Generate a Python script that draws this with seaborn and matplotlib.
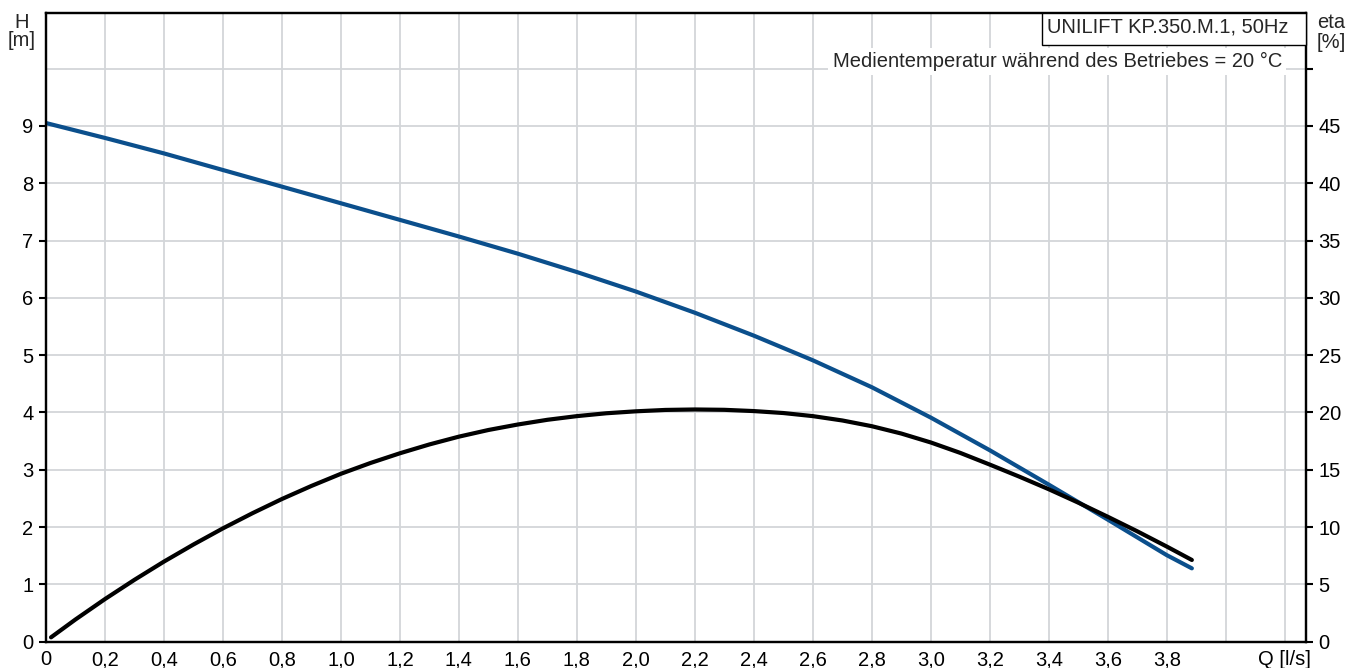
import numpy as np
import matplotlib
matplotlib.use("Agg")
import matplotlib.pyplot as plt
from matplotlib.patches import Rectangle
import seaborn as sns

# --- data ---
q_head = [0.0, 0.2, 0.4, 0.6, 0.8, 1.0, 1.2, 1.4, 1.6, 1.8, 2.0,
          2.2, 2.4, 2.6, 2.8, 3.0, 3.2, 3.4, 3.6, 3.8, 3.885]
head_m = [9.05, 8.79, 8.52, 8.23, 7.94, 7.65, 7.36, 7.07, 6.77, 6.45, 6.11,
          5.74, 5.34, 4.91, 4.44, 3.91, 3.34, 2.74, 2.13, 1.51, 1.28]

q_eta = [0.017, 0.1, 0.2, 0.3, 0.4, 0.5, 0.6, 0.7, 0.8, 0.9, 1.0,
         1.1, 1.2, 1.3, 1.4, 1.5, 1.6, 1.7, 1.8, 1.9, 2.0,
         2.1, 2.2, 2.3, 2.4, 2.5, 2.6, 2.7, 2.8, 2.9, 3.0,
         3.1, 3.2, 3.3, 3.4, 3.5, 3.6, 3.7, 3.8, 3.885]
eta_pct = [0.38, 1.94, 3.72, 5.40, 6.99, 8.48, 9.89, 11.21, 12.45, 13.59, 14.65,
           15.59, 16.44, 17.21, 17.89, 18.47, 18.95, 19.36, 19.68, 19.93, 20.10,
           20.22, 20.26, 20.23, 20.12, 19.95, 19.68, 19.30, 18.80, 18.16, 17.38,
           16.47, 15.45, 14.40, 13.30, 12.13, 10.90, 9.63, 8.30, 7.13]

q_ticks = [0.0, 0.2, 0.4, 0.6, 0.8, 1.0, 1.2, 1.4, 1.6, 1.8, 2.0,
           2.2, 2.4, 2.6, 2.8, 3.0, 3.2, 3.4, 3.6, 3.8, 4.0, 4.2]
q_labels = ["0", "0,2", "0,4", "0,6", "0,8", "1,0", "1,2", "1,4", "1,6", "1,8", "2,0",
            "2,2", "2,4", "2,6", "2,8", "3,0", "3,2", "3,4", "3,6", "3,8", "", "Q [l/s]"]
h_ticks = [0, 1, 2, 3, 4, 5, 6, 7, 8, 9, 10]
eta_ticks = [0, 5, 10, 15, 20, 25, 30, 35, 40, 45, 50]

title = "UNILIFT KP.350.M.1, 50Hz"
note = "Medientemperatur während des Betriebes = 20 °C"

sns.set_style("white")
plt.rcParams['font.family'] = ['Liberation Sans', 'DejaVu Sans']
FS = 14.5
BLUE = '#0b4f8c'
GRID = '#d3d6d9'

W, H = 1360, 668
fig = plt.figure(figsize=(W / 100, H / 100), dpi=100)
ax = fig.add_axes([46 / W, 1 - 641.7 / H, 1260 / W, 628.7 / H])
ax2 = ax.twinx()

sns.lineplot(x=q_head, y=head_m, ax=ax, color=BLUE, linewidth=3,
             sort=False, estimator=None)
sns.lineplot(x=q_eta, y=eta_pct, ax=ax2, color='black', linewidth=3,
             sort=False, estimator=None)

ax.set_xlim(0, 4.272)
ax.set_ylim(0, 10.97)
ax2.set_ylim(0, 54.85)

ax.set_xticks(q_ticks)
ax.set_xticklabels(q_labels, fontsize=FS)
ax.set_yticks(h_ticks)
ax.set_yticklabels([str(v) for v in h_ticks[:-1]] + [""], fontsize=FS)
ax.yaxis.get_major_ticks()[-1].tick1line.set_visible(False)
ax2.set_yticks(eta_ticks)
ax2.set_yticklabels([str(v) for v in eta_ticks[:-1]] + [""], fontsize=FS)

ax.grid(True, color=GRID, linewidth=1.3)
ax.set_axisbelow(True)

for a in (ax, ax2):
    for s in a.spines.values():
        s.set_linewidth(1.6)
        s.set_color('black')
    a.set_xlabel("")
    a.set_ylabel("")
ax.tick_params(axis='both', direction='out', length=5, width=1.5, pad=1,
               colors='black', labelcolor='black')
ax2.tick_params(axis='y', direction='out', length=5, width=1.5, pad=4,
                colors='black', labelcolor='black')
ax.tick_params(axis='y', pad=4)

# axis captions at the top corners
fig.text(22 / W, 1 - 22 / H, "H", ha='center', va='center', fontsize=FS)
fig.text(22 / W, 1 - 41 / H, "[m]", ha='center', va='center', fontsize=FS)
fig.text(1331 / W, 1 - 23 / H, "eta", ha='center', va='center', fontsize=FS)
fig.text(1331 / W, 1 - 42 / H, "[%]", ha='center', va='center', fontsize=FS)

# title box in the upper right corner
ax2.add_patch(Rectangle((0.7905, 0.949), 0.2095, 0.051, transform=ax2.transAxes,
                        facecolor='white', edgecolor='black', linewidth=1.0,
                        zorder=5, clip_on=False))
ax2.text(0.7945, 0.978, title, transform=ax2.transAxes, ha='left', va='center',
         fontsize=FS, zorder=6)
ax2.text(0.981, 0.923, note, transform=ax2.transAxes, ha='right', va='center',
         fontsize=FS, zorder=6,
         bbox=dict(facecolor='white', edgecolor='none', pad=3))

fig.savefig("out.png", dpi=100)
